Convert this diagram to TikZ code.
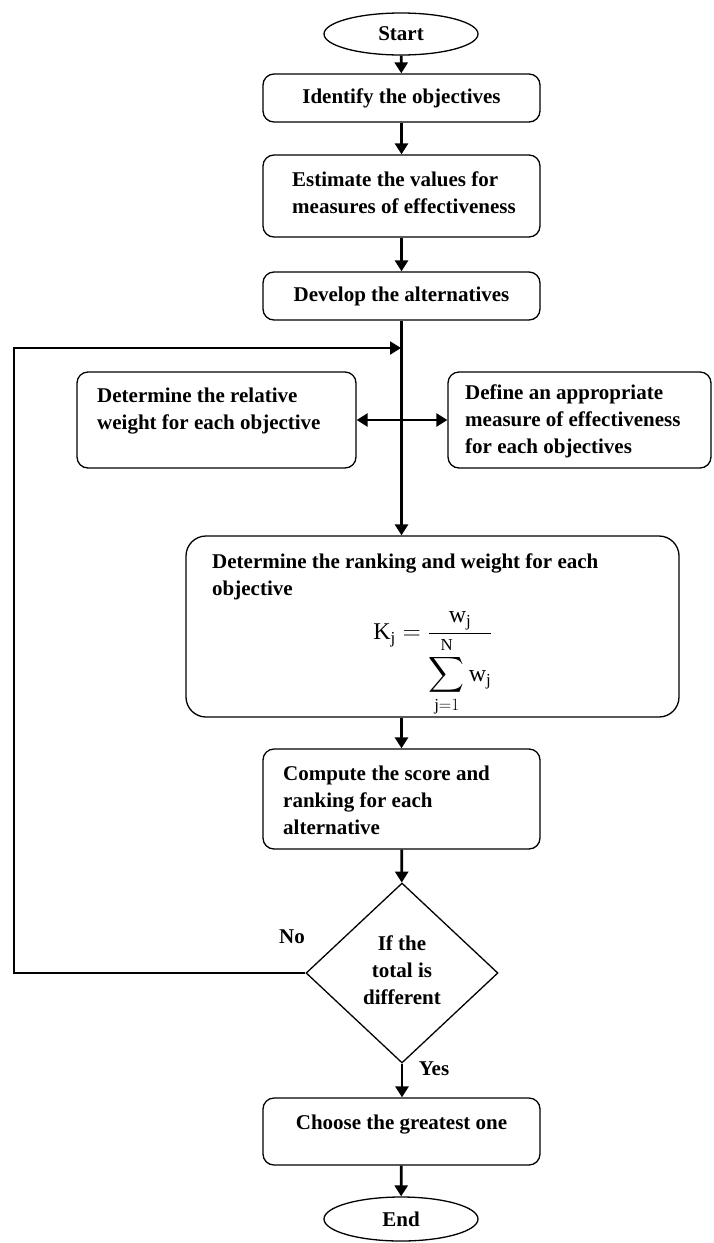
\documentclass[tikz,border=0pt]{standalone}
\usepackage{amsmath}
\usepackage{exscale}
\usepackage{fontspec}
\setmainfont{Liberation Serif}
\usetikzlibrary{arrows.meta,shapes.geometric}
\begin{document}
\begin{tikzpicture}[x=1pt,y=-1pt,
  box/.style={draw, line width=1.3pt, rounded corners=11pt, inner sep=0pt, font=\fontsize{21}{27}\selectfont\bfseries},
  term/.style={draw, ellipse, line width=1.3pt, inner sep=0pt, font=\fontsize{21}{27}\selectfont\bfseries},
  dec/.style={draw, diamond, line width=1.3pt, inner sep=0pt, aspect=1.0667},
  txt/.style={inner sep=0pt, align=left, font=\fontsize{21}{27}\selectfont\bfseries},
  flow/.style={line width=2.8pt, -{Triangle[length=11pt,width=13pt]}},
  dflow/.style={line width=2.6pt, {Triangle[length=11pt,width=13pt]}-{Triangle[length=11pt,width=13pt]}},
  thinline/.style={line width=1.6pt},
]
\useasboundingbox (0,0) rectangle (713,1243);

% terminals and boxes
\node[term, minimum width=154pt, minimum height=42pt] (start) at (401,34) {Start};
\node[box, minimum width=277pt, minimum height=48pt] (identify) at (401.5,98) {Identify the objectives};
\node[box, minimum width=277pt, minimum height=82pt] (estimate) at (401.5,196) {};
\node[txt, anchor=west] (estimatet) at (292,193) {Estimate the values for\\measures of effectiveness};
\node[box, minimum width=277pt, minimum height=48pt] (develop) at (401.5,296) {Develop the alternatives};

\node[box, minimum width=279pt, minimum height=96pt] (weight) at (216.5,420) {};
\node[txt, anchor=west] (weightt) at (97,411) {Determine the relative\\weight for each objective};
\node[box, minimum width=263pt, minimum height=96pt] (measure) at (579.5,420) {};
\node[txt, anchor=west] (measuret) at (465,421) {Define an appropriate\\measure of effectiveness\\for each objectives};

\node[box, rounded corners=20pt, minimum width=493pt, minimum height=181pt] (rank) at (432.5,626.5) {};
\node[txt, anchor=west] (rankt) at (212,577) {Determine the ranking and weight for each\\objective};
\node[inner sep=0pt, font=\fontsize{24}{28}\selectfont] (formula) at (433,664)
  {$\displaystyle \mathrm{K}_{\mathrm{j}} = \frac{\mathrm{w}_{\mathrm{j}}}{\displaystyle\sum_{\mathrm{j}=1}^{\mathrm{N}} \mathrm{w}_{\mathrm{j}}}$};

\node[box, minimum width=277pt, minimum height=100pt] (compute) at (401.5,799) {};
\node[txt, anchor=west] (computet) at (283,800) {Compute the score and\\ranking for each\\alternative};

\node[dec, minimum width=192pt, minimum height=180pt] (test) at (402,973) {};
\node[txt, align=center] (testt) at (402,970) {If the\\total is\\different};

\node[box, minimum width=277pt, minimum height=67pt] (choose) at (401.5,1131.5) {};
\node[txt, align=center] (chooset) at (401.5,1125) {Choose the greatest one};
\node[term, minimum width=154pt, minimum height=44pt] (end) at (401,1219) {End};

% labels
\node[txt] (no) at (292,937) {No};
\node[txt] (yes) at (434,1069) {Yes};

% connectors
\draw[flow] (start) -- (identify);
\draw[flow] (identify) -- (estimate);
\draw[flow] (estimate) -- (develop);
\draw[flow] (develop.south) -- (rank.north -| develop.south);
\draw[dflow] (weight.east) -- (measure.west);
\draw[flow] (rank.south -| compute.north) -- (compute.north);
\draw[flow] (compute) -- (test);
\draw[flow] (test.south) -- (choose.north -| test.south);
\draw[flow] (choose) -- (end);

\coordinate (lc1) at (14,973);
\coordinate (lc2) at (14,348);
\coordinate (lj) at (401,348);
\draw[thinline] (test.west) -- (lc1) -- (lc2);
\draw[flow, line width=2.4pt] ([xshift=-0.8pt]lc2) -- (lj);
\end{tikzpicture}
\end{document}
